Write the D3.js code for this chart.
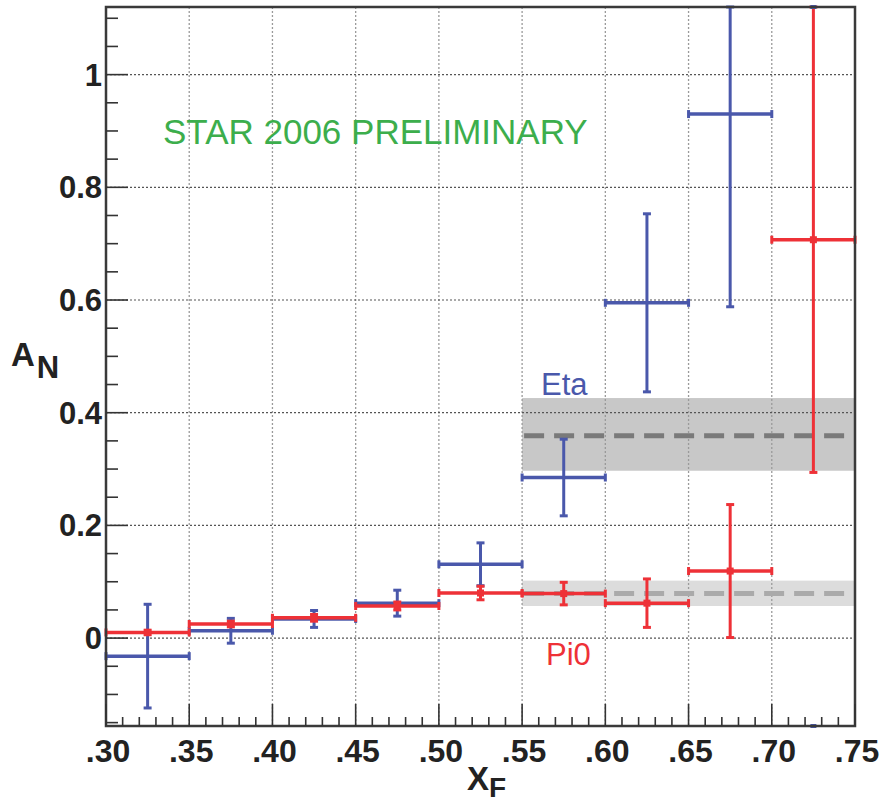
<!DOCTYPE html>
<html>
<head>
<meta charset="utf-8">
<script src="https://cdn.jsdelivr.net/npm/d3@7"></script>
<style>
  body { margin: 0; background: white; }
  text { font-family: "Liberation Sans", Arial, sans-serif; }
</style>
</head>
<body>
<div id="chart"></div>
<script>
// bins in xF, width 0.05
const binCenters = [0.325, 0.375, 0.425, 0.475, 0.525, 0.575, 0.625, 0.675, 0.725];
const binHalf = 0.025;

// Eta A_N and stat errors (last bin is off scale)
const etaValues = [-0.032, 0.013, 0.034, 0.062, 0.131, 0.285, 0.595, 0.930, null];
const etaErrors = [0.092, 0.022, 0.015, 0.023, 0.038, 0.068, 0.158, 0.342, null];

// Pi0 A_N and stat errors
const pi0Values = [0.010, 0.025, 0.036, 0.057, 0.080, 0.079, 0.062, 0.119, 0.707];
const pi0Errors = [0.004, 0.005, 0.006, 0.007, 0.012, 0.020, 0.043, 0.118, 0.413];

// averages over xF > 0.55 with systematic bands
const etaAvg = { x0: 0.55, x1: 0.75, mean: 0.359, lo: 0.297, hi: 0.426 };
const pi0Avg = { x0: 0.55, x1: 0.75, mean: 0.079, lo: 0.057, hi: 0.102 };

const xTicks = [0.30, 0.35, 0.40, 0.45, 0.50, 0.55, 0.60, 0.65, 0.70, 0.75];
const yTicks = [0, 0.2, 0.4, 0.6, 0.8, 1];
const yTickLabels = ['0', '0.2', '0.4', '0.6', '0.8', '1'];

const width = 885, height = 806;
const m = { left: 106, right: 855, top: 7, bottom: 726 };
const blue = '#4a58ab', red = '#ee3137';

const svg = d3.select('#chart').append('svg')
    .attr('width', width)
    .attr('height', height);

const x = d3.scaleLinear().domain([0.30, 0.75]).range([m.left, m.right]);
const y = d3.scaleLinear().domain([-0.156, 1.12]).range([m.bottom, m.top]);
const clampY = v => Math.max(y.domain()[0], Math.min(y.domain()[1], v));

// systematic bands
[[etaAvg, '#c8c8c8'], [pi0Avg, '#dcdcdc']].forEach(function(b) {
    svg.append('rect')
        .attr('x', x(b[0].x0))
        .attr('y', y(b[0].hi))
        .attr('width', x(b[0].x1) - x(b[0].x0))
        .attr('height', y(b[0].lo) - y(b[0].hi))
        .style('fill', b[1]);
});

// grid
svg.append('g').selectAll('line')
    .data(xTicks.slice(1, -1))
    .enter().append('line')
    .attr('x1', d => x(d)).attr('x2', d => x(d))
    .attr('y1', m.top).attr('y2', m.bottom)
    .style('stroke', '#9a9a9a')
    .style('stroke-width', 1.3)
    .style('stroke-dasharray', '2,2');

svg.append('g').selectAll('line')
    .data(yTicks)
    .enter().append('line')
    .attr('x1', m.left).attr('x2', m.right)
    .attr('y1', d => y(d)).attr('y2', d => y(d))
    .style('stroke', '#555')
    .style('stroke-width', 1.2)
    .style('stroke-dasharray', '2,2');

// dashed average lines
[[etaAvg, '#7a7a7a'], [pi0Avg, '#aaaaaa']].forEach(function(b) {
    svg.append('line')
        .attr('x1', x(b[0].x0) + 2).attr('x2', x(b[0].x1))
        .attr('y1', y(b[0].mean)).attr('y2', y(b[0].mean))
        .style('stroke', b[1])
        .style('stroke-width', 5)
        .style('stroke-dasharray', '20,10');
});

function drawSeries(values, errors, color, marker) {
    const g = svg.append('g');
    binCenters.forEach(function(c, i) {
        const v = values[i];
        if (v === null) return;
        const e = errors[i];
        const yv = y(v);
        // horizontal bin bar
        g.append('line')
            .attr('x1', x(c - binHalf)).attr('x2', x(c + binHalf))
            .attr('y1', yv).attr('y2', yv)
            .style('stroke', color).style('stroke-width', 3.5);
        [c - binHalf, c + binHalf].forEach(function(xe) {
            g.append('line')
                .attr('x1', x(xe)).attr('x2', x(xe))
                .attr('y1', yv - 4).attr('y2', yv + 4)
                .style('stroke', color).style('stroke-width', 3);
        });
        // vertical error
        const y1 = y(clampY(v + e)), y2 = y(clampY(v - e));
        g.append('line')
            .attr('x1', x(c)).attr('x2', x(c))
            .attr('y1', y1).attr('y2', y2)
            .style('stroke', color).style('stroke-width', 3);
        [y1, y2].forEach(function(ye) {
            g.append('line')
                .attr('x1', x(c) - 4).attr('x2', x(c) + 4)
                .attr('y1', ye).attr('y2', ye)
                .style('stroke', color).style('stroke-width', 3);
        });
        if (marker) {
            g.append('rect')
                .attr('x', x(c) - 3.5).attr('y', yv - 3.5)
                .attr('width', 7).attr('height', 7)
                .style('fill', color);
        }
    });
}

drawSeries(etaValues, etaErrors, blue, false);
drawSeries(pi0Values, pi0Errors, red, true);

// off-scale eta point in last bin: only the clipped caps show
binCenters.forEach(function(c, i) {
    if (etaValues[i] !== null) return;
    y.domain().forEach(function(d) {
        svg.append('rect')
            .attr('x', x(c) - 3).attr('y', y(d) - 2)
            .attr('width', 6).attr('height', 4)
            .style('fill', blue);
    });
});

// frame
svg.append('rect')
    .attr('x', m.left).attr('y', m.top)
    .attr('width', m.right - m.left).attr('height', m.bottom - m.top)
    .style('fill', 'none')
    .style('stroke', '#3a3a3a')
    .style('stroke-width', 2.5);

// y ticks
const yMinor = d3.range(-0.15, 1.12, 0.05);
svg.append('g').selectAll('line')
    .data(yMinor)
    .enter().append('line')
    .attr('x1', m.left)
    .attr('x2', d => Math.abs(d * 5 - Math.round(d * 5)) < 1e-6 ? m.left + 22 : m.left + 12)
    .attr('y1', d => y(d)).attr('y2', d => y(d))
    .style('stroke', '#333').style('stroke-width', 1.6);

// x ticks
const xMinor = d3.range(0.30, 0.7501, 0.01);
svg.append('g').selectAll('line')
    .data(xMinor)
    .enter().append('line')
    .attr('x1', d => x(d)).attr('x2', d => x(d))
    .attr('y1', m.bottom)
    .attr('y2', d => Math.abs(d * 20 - Math.round(d * 20)) < 1e-6 ? m.bottom - 22 : m.bottom - 9)
    .style('stroke', '#333').style('stroke-width', 1.6);

// tick labels
svg.append('g').selectAll('text')
    .data(yTicks)
    .enter().append('text')
    .attr('x', 102)
    .attr('y', d => y(d) + 11)
    .attr('text-anchor', 'end')
    .style('font-size', '31px').style('font-weight', 'bold').style('fill', '#222')
    .text((d, i) => yTickLabels[i]);

svg.append('g').selectAll('text')
    .data(xTicks)
    .enter().append('text')
    .attr('x', d => x(d) + 2)
    .attr('y', 762)
    .attr('text-anchor', 'middle')
    .style('font-size', '32px').style('font-weight', 'bold').style('fill', '#222')
    .text(d => d3.format('.2f')(d).replace(/^0/, ''));

// axis titles
const yTitle = svg.append('text')
    .attr('x', 11).attr('y', 366)
    .style('font-weight', 'bold').style('fill', '#222');
yTitle.append('tspan').style('font-size', '33px').text('A');
yTitle.append('tspan').attr('dy', 12).attr('dx', 2).style('font-size', '31px').text('N');

const xTitle = svg.append('text')
    .attr('x', 467).attr('y', 790)
    .style('font-weight', 'bold').style('fill', '#222');
xTitle.append('tspan').style('font-size', '33px').text('X');
xTitle.append('tspan').attr('dy', 7).style('font-size', '28px').text('F');

// annotations
svg.append('text')
    .attr('x', 163).attr('y', 144)
    .style('font-size', '35px').style('fill', '#3cae4c')
    .text('STAR 2006 PRELIMINARY');

svg.append('text')
    .attr('x', 541).attr('y', 395)
    .style('font-size', '31px').style('fill', blue)
    .text('Eta');

svg.append('text')
    .attr('x', 546).attr('y', 665)
    .style('font-size', '31px').style('fill', red)
    .text('Pi0');
</script>
</body>
</html>
